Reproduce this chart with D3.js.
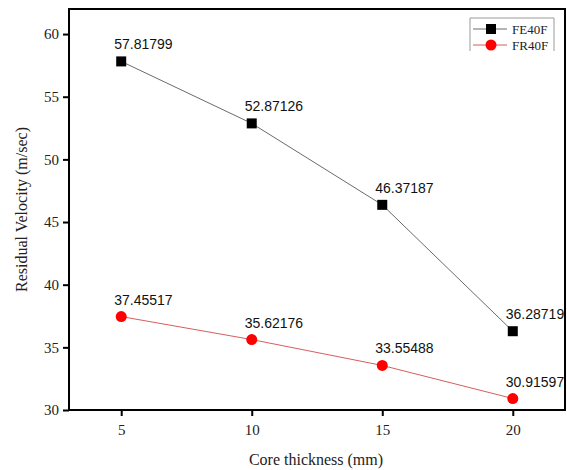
<!DOCTYPE html>
<html>
<head>
<meta charset="utf-8">
<script src="https://cdn.jsdelivr.net/npm/d3@7"></script>
<style>
  body { margin: 0; background: #fff; }
  svg { display: block; }
</style>
</head>
<body>
<div id="chart"></div>
<script>
const thickness = [5, 10, 15, 20];
const fe40f = [57.81799, 52.87126, 46.37187, 36.28719];
const fr40f = [37.45517, 35.62176, 33.55488, 30.91597];
const xTicks = [5, 10, 15, 20];
const yTicks = [30, 35, 40, 45, 50, 55, 60];
const seriesNames = ["FE40F", "FR40F"];

const WIDTH = 567, HEIGHT = 470;
const margin = { top: 9, right: 2, bottom: 60, left: 69 };
const w = WIDTH - margin.left - margin.right;
const h = HEIGHT - margin.top - margin.bottom;

const svg = d3.select("#chart").append("svg")
  .attr("width", WIDTH)
  .attr("height", HEIGHT);

const g = svg.append("g")
  .attr("transform", "translate(" + margin.left + "," + margin.top + ")");

const x = d3.scaleLinear().domain([3, 22]).range([0, w]);
const y = d3.scaleLinear().domain([30, 62]).range([h, 0]);

const serif = "'Liberation Serif', 'Times New Roman', serif";
const sans = "'Liberation Sans', Arial, sans-serif";

// axes
const xAxis = g.append("g")
  .attr("transform", "translate(0," + h + ")")
  .call(d3.axisBottom(x).tickValues(xTicks).tickSize(6).tickPadding(8).tickFormat(d3.format("d")));
const yAxis = g.append("g")
  .call(d3.axisLeft(y).tickValues(yTicks).tickSize(6).tickPadding(4).tickFormat(d3.format("d")));

[xAxis, yAxis].forEach(ax => {
  ax.select(".domain").remove();
  ax.selectAll(".tick line").attr("stroke", "#000").attr("stroke-width", 2);
  ax.selectAll(".tick text")
    .attr("fill", "#222")
    .style("font-family", serif)
    .style("font-size", "15px");
});

// frame
g.append("rect")
  .attr("x", 0).attr("y", 0)
  .attr("width", w).attr("height", h)
  .attr("fill", "none")
  .attr("stroke", "#000")
  .attr("stroke-width", 2);

const series = [
  { name: seriesNames[0], values: fe40f, color: "#000", line: "#444", shape: "square" },
  { name: seriesNames[1], values: fr40f, color: "#f00", line: "#c33", shape: "circle" }
];

const line = d3.line()
  .x((d, i) => x(thickness[i]))
  .y(d => y(d));

function drawMarker(sel, s, cx, cy) {
  if (s.shape === "square") {
    sel.append("rect")
      .attr("x", cx - 5).attr("y", cy - 5)
      .attr("width", 10).attr("height", 10)
      .attr("fill", s.color);
  } else {
    sel.append("circle")
      .attr("cx", cx).attr("cy", cy).attr("r", 5.5)
      .attr("fill", s.color);
  }
}

series.forEach(s => {
  g.append("path")
    .datum(s.values)
    .attr("fill", "none")
    .attr("stroke", s.line)
    .attr("stroke-width", 0.8)
    .attr("d", line);

  const pts = g.append("g");
  s.values.forEach((v, i) => {
    drawMarker(pts, s, x(thickness[i]), y(v));
    pts.append("text")
      .attr("x", x(thickness[i]) - 7)
      .attr("y", y(v) - 12)
      .attr("fill", "#111")
      .style("font-family", sans)
      .style("font-size", "14px")
      .text(d3.format(".5f")(v));
  });
});

// legend
const lg = svg.append("g").attr("transform", "translate(470,18)");
lg.append("path")
  .attr("d", "M0,33 V0 H84 V33")
  .attr("fill", "none")
  .attr("stroke", "#999")
  .attr("stroke-width", 1);
series.forEach((s, i) => {
  const ly = 11 + i * 16;
  lg.append("line")
    .attr("x1", 3).attr("x2", 37)
    .attr("y1", ly).attr("y2", ly)
    .attr("stroke", s.line).attr("stroke-width", 0.8);
  drawMarker(lg, s, 21, ly);
  lg.append("text")
    .attr("x", 42).attr("y", ly + 5)
    .attr("fill", "#222")
    .style("font-family", serif)
    .style("font-size", "13px")
    .text(s.name);
});

// axis titles
svg.append("text")
  .attr("x", margin.left + w / 2 - 1)
  .attr("y", 465)
  .attr("text-anchor", "middle")
  .attr("fill", "#222")
  .style("font-family", serif)
  .style("font-size", "16px")
  .text("Core thickness (mm)");

svg.append("text")
  .attr("transform", "translate(27," + (margin.top + h / 2) + ") rotate(-90)")
  .attr("text-anchor", "middle")
  .attr("fill", "#222")
  .style("font-family", serif)
  .style("font-size", "16px")
  .text("Residual Velocity (m/sec)");
</script>
</body>
</html>
